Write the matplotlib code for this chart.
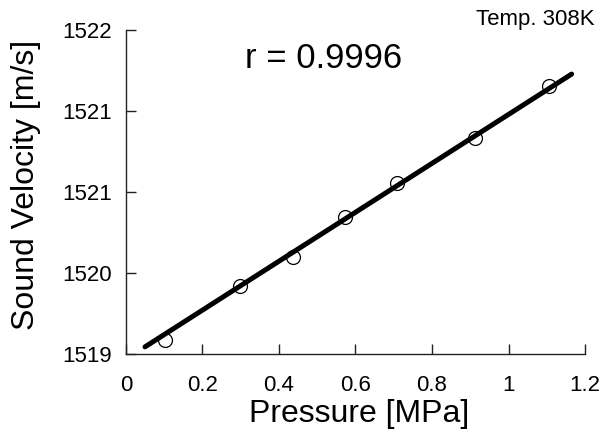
import matplotlib
matplotlib.use("Agg")
import matplotlib.pyplot as plt

plt.rcParams['font.family'] = ['Liberation Sans', 'DejaVu Sans']

# measured points
pressure = [0.102, 0.298, 0.437, 0.573, 0.708, 0.912, 1.106]
velocity = [1519.13, 1519.63, 1519.90, 1520.27, 1520.58, 1521.00, 1521.48]

# regression line ends
fit_x = [0.05, 1.165]
fit_y = [1519.065, 1521.59]

xticks = [0, 0.2, 0.4, 0.6, 0.8, 1.0, 1.2]
xtick_labels = ['0', '0.2', '0.4', '0.6', '0.8', '1', '1.2']
yticks = [1519, 1519.75, 1520.5, 1521.25, 1522]
ytick_labels = ['1519', '1520', '1521', '1521', '1522']

fig = plt.figure(figsize=(6.05, 4.38), dpi=100)
ax = fig.add_axes([0.208, 0.192, 0.759, 0.740])

ax.plot(fit_x, fit_y, color='black', lw=3.6, solid_capstyle='round', zorder=2)
ax.plot(pressure, velocity, 'o', mfc='none', mec='black', ms=10, mew=0.9, zorder=3)

ax.set_xlim(0, 1.2)
ax.set_ylim(1519, 1522)
ax.set_xticks(xticks)
ax.set_xticklabels(xtick_labels)
ax.set_yticks(yticks)
ax.set_yticklabels(ytick_labels)

for s in ['top', 'right']:
    ax.spines[s].set_visible(False)
for s in ['left', 'bottom']:
    ax.spines[s].set_linewidth(1.0)
    ax.spines[s].set_color('#222222')

ax.tick_params(axis='both', direction='in', length=7, width=1.0, labelsize=16, color='#222222')
ax.tick_params(axis='x', pad=15)
ax.tick_params(axis='y', pad=10)

ax.set_xlabel('Pressure [MPa]', fontsize=23)
ax.xaxis.set_label_coords(0.508, -0.139)
ax.set_ylabel('Sound Velocity [m/s]', fontsize=23)
ax.yaxis.set_label_coords(-0.185, 0.52)

ax.text(0.259, 0.883, 'r = 0.9996', transform=ax.transAxes, fontsize=25, va='baseline', ha='left')
fig.text(0.983, 0.943, 'Temp. 308K', fontsize=16, ha='right', va='baseline')

fig.savefig('out.png', dpi=100)
